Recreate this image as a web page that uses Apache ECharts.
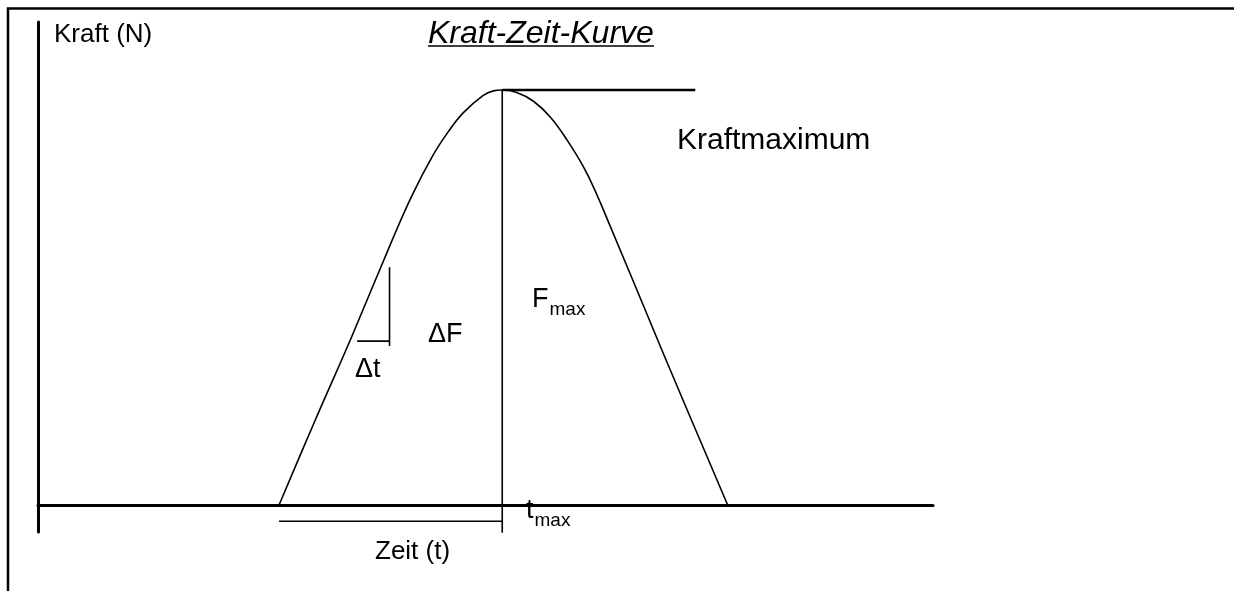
<!DOCTYPE html>
<html>
<head>
<meta charset="utf-8">
<script src="https://cdn.jsdelivr.net/npm/echarts@6/dist/echarts.min.js"></script>
<style>
html,body{margin:0;padding:0;background:#fff;}
#main{width:1234px;height:591px;}
</style>
</head>
<body>
<div id="main"></div>
<script>
// Kraft-Zeit-Kurve (schematisch), Zeit in willk. Einheiten, Kraft in N
var zeit  = [0, 16, 32.5, 50.5, 59.5, 69, 76, 82.5, 91.5, 96, 100,
             106.5, 114, 121.5, 129, 137, 144, 172.5, 201];
var kraft = [0, 202, 405, 636, 745, 843, 901, 945, 987, 998, 1000,
             994, 973, 935, 880, 809, 728, 361, 0];

// Hilfslinien
var maxLinie    = [[100, 1000], [186.5, 1000]];
var tmaxLinie   = [[100, 1000], [100, -104]];
var zeitKlammer = [[0, -39], [100, -39]];
var deltaFLinie = [[49.5, 573], [49.5, 383]];
var deltaTLinie = [[35, 395], [49.5, 395]];

var achseT = [-108, 293];
var achseF = [-65, 1164];

var kurve = [];
for (var i = 0; i < zeit.length; i++) {
    kurve.push([zeit[i], kraft[i]]);
}

var font = 'Liberation Sans, Arial, sans-serif';

function linie(data, w) {
    return {
        type: 'line',
        data: data,
        showSymbol: false,
        silent: true,
        lineStyle: {color: '#000', width: w}
    };
}

var subStyle = {
    a: {font: '27px ' + font, fill: '#000', verticalAlign: 'bottom'},
    b: {font: '19px ' + font, fill: '#000', verticalAlign: 'bottom', padding: [0, 0, -6, 1]}
};

var myChart = echarts.init(document.getElementById('main'));
var option = {
    backgroundColor: '#fff',
    animation: false,
    grid: {left: 38, right: 301, top: 22, bottom: 59},
    xAxis: {
        type: 'value',
        min: achseT[0],
        max: achseT[1],
        axisLine: {onZero: true, lineStyle: {color: '#000', width: 3}},
        axisTick: {show: false},
        axisLabel: {show: false},
        splitLine: {show: false}
    },
    yAxis: {
        type: 'value',
        min: achseF[0],
        max: achseF[1],
        axisLine: {show: true, onZero: false, lineStyle: {color: '#000', width: 3}},
        axisTick: {show: false},
        axisLabel: {show: false},
        splitLine: {show: false}
    },
    series: [
        {
            type: 'line',
            data: kurve,
            smooth: 0.4,
            showSymbol: false,
            silent: true,
            lineStyle: {color: '#000', width: 1.6}
        },
        linie(maxLinie, 2.5),
        linie(tmaxLinie, 1.6),
        linie(zeitKlammer, 1.6),
        linie(deltaFLinie, 1.6),
        linie(deltaTLinie, 1.6)
    ],
    graphic: [
        {type: 'polyline', shape: {points: [[8, 591], [8, 8.5], [1234, 8.5]]},
            style: {stroke: '#000', lineWidth: 2.5, fill: null}},
        {type: 'text', left: 54, top: 22,
            style: {text: 'Kraft (N)', font: '26px ' + font, fill: '#000'}},
        {type: 'text', left: 428, top: 18,
            style: {text: 'Kraft-Zeit-Kurve', font: 'italic 32px ' + font, fill: '#000'}},
        {type: 'line', shape: {x1: 428, y1: 46, x2: 654, y2: 46},
            style: {stroke: '#000', lineWidth: 1.5}},
        {type: 'text', left: 677, top: 126,
            style: {text: 'Kraftmaximum', font: '30px ' + font, fill: '#000'}},
        {type: 'text', left: 428, top: 321,
            style: {text: '\u0394F', font: '27px ' + font, fill: '#000'}},
        {type: 'text', left: 355, top: 356,
            style: {text: '\u0394t', font: '27px ' + font, fill: '#000'}},
        {type: 'text', left: 532, top: 286,
            style: {text: '{a|F}{b|max}', rich: subStyle}},
        {type: 'text', left: 526, top: 497,
            style: {text: '{a|t}{b|max}', rich: subStyle}},
        {type: 'text', left: 375, top: 539,
            style: {text: 'Zeit (t)', font: '26px ' + font, fill: '#000'}}
    ]
};
myChart.setOption(option);
</script>
</body>
</html>
